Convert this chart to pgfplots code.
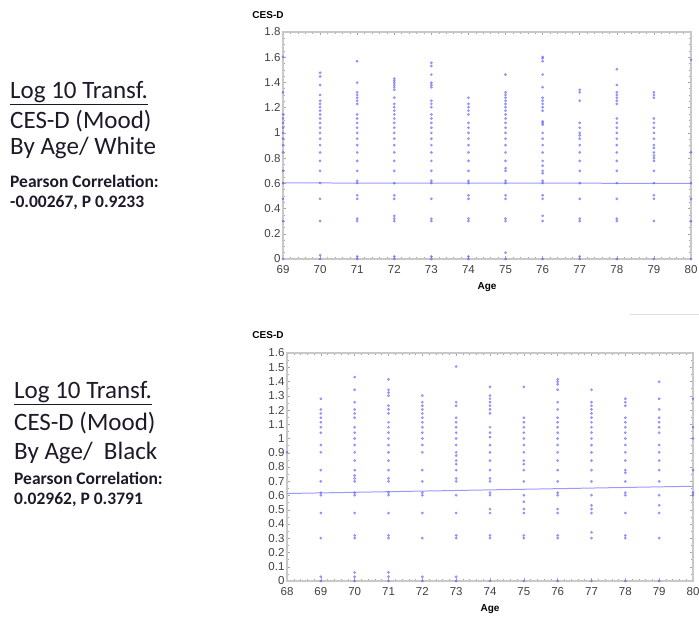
\documentclass[border=0pt]{standalone}
\usepackage{fontspec}
\setmainfont{Carlito}
\newfontfamily\arialf{Liberation Sans}
\usepackage{pgfplots}
\pgfplotsset{compat=1.18}
\definecolor{ptblue}{RGB}{90,90,255}
\definecolor{lnblue}{RGB}{155,155,255}
\definecolor{framegray}{RGB}{200,200,200}
\definecolor{txt}{RGB}{30,25,40}
\pgfplotsset{
  cesd/.style={
    anchor=south west, scale only axis,
    axis line style={draw=framegray, line width=1.3pt},
    tick style={draw=gray!70, line width=0.5pt},
    major tick length=3pt, minor tick length=2pt,
    minor x tick num=4, minor y tick num=3,
    /pgf/number format/assume math mode=true,
    ticklabel style={font=\arialf\fontsize{11.5}{12}\selectfont, text=black!75},
    xticklabel style={yshift=-3pt},
    yticklabel style={xshift=1pt},
    xlabel={Age},
    xlabel style={font=\arialf\bfseries\fontsize{10}{11}\selectfont, yshift=-2pt},
    clip=false,
  },
  pts/.style={only marks, color=ptblue, mark=*, mark size=1.2pt, opacity=0.55},
  reg/.style={lnblue, line width=1pt, no marks},
}
\begin{document}
\begin{tikzpicture}
\useasboundingbox (0,0) rectangle (699pt,625pt);
% left texts
\begin{scope}[every node/.style={anchor=west, inner sep=0pt, text=txt}]
\node[font=\fontsize{25}{27}\selectfont] at (10pt,532pt) {\underline{Log 10 Transf.}};
\node[font=\fontsize{25}{27}\selectfont] at (10pt,504pt) {CES-D (Mood)};
\node[font=\fontsize{25}{27}\selectfont] at (10pt,477pt) {By Age/ White};
\node[font=\bfseries\fontsize{17.5}{19}\selectfont] at (10pt,444pt) {Pearson Correlation:};
\node[font=\bfseries\fontsize{17.5}{19}\selectfont] at (10pt,422pt) {-0.00267, P 0.9233};
\node[font=\fontsize{25}{27}\selectfont] at (14pt,232pt) {\underline{Log 10 Transf.}};
\node[font=\fontsize{25}{27}\selectfont] at (14pt,202pt) {CES-D (Mood)};
\node[font=\fontsize{25}{27}\selectfont] at (14pt,172pt) {By Age/\ \ Black};
\node[font=\bfseries\fontsize{17.5}{19}\selectfont] at (14pt,147pt) {Pearson Correlation:};
\node[font=\bfseries\fontsize{17.5}{19}\selectfont] at (14pt,125pt) {0.02962, P 0.3791};
\end{scope}
\node[font=\arialf\bfseries\fontsize{10}{11}\selectfont, inner sep=0pt] at (268pt,610pt) {CES-D};
\node[font=\arialf\bfseries\fontsize{10}{11}\selectfont, inner sep=0pt] at (268pt,290pt) {CES-D};
\draw[gray!25, line width=0.8pt] (630pt,311pt) -- (699pt,311pt);

% ---------------- top: White ----------------
\begin{axis}[cesd, at={(283pt,366pt)}, width=408pt, height=227pt,
  xmin=69, xmax=80, ymin=0, ymax=1.8,
  xtick={69,70,71,72,73,74,75,76,77,78,79,80},
  ytick={0,0.2,0.4,0.6,0.8,1,1.2,1.4,1.6,1.8},
  yticklabels={0,0.2,0.4,0.6,0.8,1,1.2,1.4,1.6,1.8}]
\addplot[pts] coordinates {
(69,1.602)(69,1.322)(69,1.146)(69,1.114)(69,1.079)(69,1.041)(69,1)(69,0.954)(69,0.903)(69,0.845)(69,0.699)(69,0.602)(69,0.477)(69,0.301)(69,0)
(70,1.477)(70,1.447)(70,1.380)(70,1.301)(70,1.255)(70,1.230)(70,1.204)(70,1.176)(70,1.146)(70,1.114)(70,1.079)(70,1.041)(70,1)(70,0.954)(70,0.903)(70,0.845)(70,0.778)(70,0.699)(70,0.602)(70,0.477)(70,0.301)(70,0)(70,0.03)
(71,1.568)(71,1.398)(71,1.322)(71,1.301)(71,1.279)(71,1.255)(71,1.230)(71,1.146)(71,1.114)(71,1.079)(71,1.041)(71,1)(71,0.954)(71,0.903)(71,0.845)(71,0.778)(71,0.699)(71,0.602)(71,0.62)(71,0.477)(71,0.505)(71,0.301)(71,0.32)(71,0)(71,0.02)
(72,1.431)(72,1.415)(72,1.398)(72,1.380)(72,1.362)(72,1.342)(72,1.279)(72,1.230)(72,1.204)(72,1.176)(72,1.146)(72,1.114)(72,1.079)(72,1.041)(72,1)(72,0.954)(72,0.903)(72,0.845)(72,0.778)(72,0.699)(72,0.602)(72,0.477)(72,0.505)(72,0.301)(72,0.342)(72,0.32)(72,0)(72,0.02)
(73,1.556)(73,1.531)(73,1.462)(73,1.398)(73,1.380)(73,1.362)(73,1.255)(73,1.230)(73,1.204)(73,1.146)(73,1.114)(73,1.079)(73,1.041)(73,1)(73,0.954)(73,0.903)(73,0.845)(73,0.778)(73,0.699)(73,0.602)(73,0.62)(73,0.477)(73,0.301)(73,0.32)(73,0)(73,0.02)
(74,1.279)(74,1.230)(74,1.204)(74,1.176)(74,1.146)(74,1.079)(74,1.041)(74,1)(74,0.954)(74,0.903)(74,0.845)(74,0.778)(74,0.699)(74,0.602)(74,0.62)(74,0.477)(74,0.505)(74,0.301)(74,0.32)(74,0)(74,0.02)
(75,1.462)(75,1.322)(75,1.301)(75,1.279)(75,1.255)(75,1.230)(75,1.204)(75,1.176)(75,1.146)(75,1.114)(75,1.079)(75,1.041)(75,1)(75,0.954)(75,0.903)(75,0.845)(75,0.778)(75,0.699)(75,0.72)(75,0.602)(75,0.62)(75,0.477)(75,0.505)(75,0.301)(75,0.32)(75,0.05)(75,0)
(76,1.602)(76,1.591)(76,1.568)(76,1.462)(76,1.362)(76,1.279)(76,1.255)(76,1.230)(76,1.204)(76,1.176)(76,1.079)(76,1.091)(76,1.065)(76,1)(76,0.954)(76,0.903)(76,0.845)(76,0.778)(76,0.74)(76,0.699)(76,0.68)(76,0.602)(76,0.62)(76,0.477)(76,0.505)(76,0.342)(76,0.301)(76,0)
(77,1.342)(77,1.322)(77,1.255)(77,1.079)(77,1.041)(77,1)(77,0.98)(77,0.954)(77,0.903)(77,0.845)(77,0.778)(77,0.699)(77,0.602)(77,0.477)(77,0.301)(77,0.32)(77,0)(77,0.02)
(78,1.505)(78,1.380)(78,1.322)(78,1.301)(78,1.279)(78,1.255)(78,1.230)(78,1.114)(78,1.079)(78,1.041)(78,1)(78,0.954)(78,0.903)(78,0.845)(78,0.778)(78,0.699)(78,0.602)(78,0.477)(78,0.301)(78,0.32)(78,0)
(79,1.322)(79,1.301)(79,1.279)(79,1.114)(79,1.079)(79,1.041)(79,1)(79,0.954)(79,0.903)(79,0.88)(79,0.845)(79,0.82)(79,0.80)(79,0.778)(79,0.699)(79,0.602)(79,0.477)(79,0.505)(79,0.301)(79,0)
(80,1.580)(80,0.845)(80,0.602)(80,0.477)(80,0.301)(80,0)
};
\addplot[reg] coordinates {(69,0.603)(80,0.600)};
\end{axis}

% ---------------- bottom: Black ----------------
\begin{axis}[cesd, at={(287pt,44pt)}, width=406pt, height=228pt,
  xmin=68, xmax=80, ymin=0, ymax=1.6,
  xtick={68,69,70,71,72,73,74,75,76,77,78,79,80},
  ytick={0,0.1,0.2,0.3,0.4,0.5,0.6,0.7,0.8,0.9,1,1.1,1.2,1.3,1.4,1.5,1.6},
  yticklabels={0,0.1,0.2,0.3,0.4,0.5,0.6,0.7,0.8,0.9,1,1.1,1.2,1.3,1.4,1.5,1.6},
  minor y tick num=1]
\addplot[pts] coordinates {
(68,0.903)
(69,1.279)(69,1.204)(69,1.176)(69,1.146)(69,1.114)(69,1.079)(69,1.041)(69,0.954)(69,0.903)(69,0.778)(69,0.699)(69,0.602)(69,0.62)(69,0.477)(69,0.301)(69,0)(69,0.03)
(70,1.431)(70,1.342)(70,1.255)(70,1.204)(70,1.176)(70,1.146)(70,1.079)(70,1.041)(70,1)(70,0.954)(70,0.903)(70,0.845)(70,0.778)(70,0.74)(70,0.72)(70,0.699)(70,0.602)(70,0.62)(70,0.477)(70,0.301)(70,0.32)(70,0)(70,0.03)(70,0.06)
(71,1.415)(71,1.342)(71,1.322)(71,1.301)(71,1.230)(71,1.204)(71,1.176)(71,1.114)(71,1.079)(71,1.041)(71,1)(71,0.954)(71,0.903)(71,0.845)(71,0.778)(71,0.72)(71,0.699)(71,0.602)(71,0.62)(71,0.477)(71,0.301)(71,0.32)(71,0)(71,0.03)(71,0.06)
(72,1.301)(72,1.255)(72,1.230)(72,1.204)(72,1.176)(72,1.146)(72,1.114)(72,1.079)(72,1.041)(72,1)(72,0.954)(72,0.903)(72,0.778)(72,0.699)(72,0.602)(72,0.62)(72,0.477)(72,0.301)(72,0)(72,0.03)
(73,1.505)(73,1.255)(73,1.230)(73,1.146)(73,1.114)(73,1.079)(73,1.041)(73,1)(73,0.954)(73,0.903)(73,0.88)(73,0.845)(73,0.82)(73,0.778)(73,0.699)(73,0.72)(73,0.602)(73,0.477)(73,0.301)(73,0.32)(73,0)(73,0.03)
(74,1.362)(74,1.301)(74,1.279)(74,1.255)(74,1.230)(74,1.204)(74,1.176)(74,1.079)(74,1.041)(74,1.01)(74,0.954)(74,0.903)(74,0.845)(74,0.778)(74,0.72)(74,0.699)(74,0.602)(74,0.62)(74,0.477)(74,0.505)(74,0.301)(74,0.32)(74,0)
(75,1.362)(75,1.146)(75,1.114)(75,1.079)(75,1.041)(75,1)(75,0.954)(75,0.903)(75,0.845)(75,0.82)(75,0.778)(75,0.699)(75,0.602)(75,0.556)(75,0.477)(75,0.505)(75,0.301)(75,0.32)(75,0)
(76,1.415)(76,1.398)(76,1.380)(76,1.342)(76,1.255)(76,1.204)(76,1.146)(76,1.114)(76,1.079)(76,1.041)(76,1)(76,0.954)(76,0.903)(76,0.845)(76,0.778)(76,0.699)(76,0.602)(76,0.62)(76,0.477)(76,0.505)(76,0.301)(76,0.32)(76,0)
(77,1.342)(77,1.255)(77,1.230)(77,1.204)(77,1.176)(77,1.146)(77,1.114)(77,1.079)(77,1.041)(77,1)(77,0.954)(77,0.903)(77,0.845)(77,0.778)(77,0.699)(77,0.602)(77,0.531)(77,0.505)(77,0.477)(77,0.342)(77,0.301)(77,0)
(78,1.279)(78,1.255)(78,1.230)(78,1.146)(78,1.114)(78,1.079)(78,1.041)(78,1)(78,0.954)(78,0.903)(78,0.845)(78,0.778)(78,0.76)(78,0.699)(78,0.602)(78,0.62)(78,0.477)(78,0.301)(78,0.32)(78,0)
(79,1.398)(79,1.279)(79,1.204)(79,1.146)(79,1.114)(79,1.079)(79,1.041)(79,0.954)(79,0.903)(79,0.845)(79,0.778)(79,0.699)(79,0.602)(79,0.531)(79,0.477)(79,0.301)(79,0)
(80,1.279)(80,1.079)(80,1)(80,0.778)(80,0.602)(80,0.62)
};
\addplot[reg] coordinates {(68,0.614)(80,0.665)};
\end{axis}
\end{tikzpicture}
\end{document}
